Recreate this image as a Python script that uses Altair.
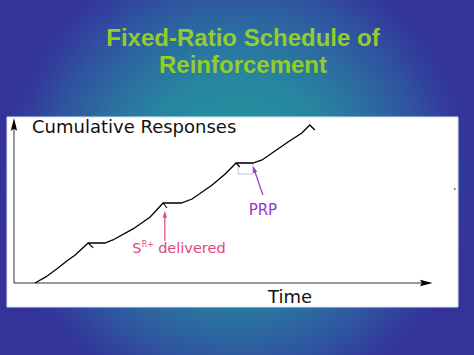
import altair as alt
import pandas as pd

# ---- cumulative record (time units 0..100 on the x axis, responses on y) ----
rec_time = [5.0, 7.6, 10.5, 12.6, 14.6, 17.7, 21.7, 23.6, 28.4, 32.5, 35.6, 39.9,
            42.5, 47.3, 50.4, 53.0, 57.0, 59.2, 61.6, 65.4, 68.7, 70.6, 71.8]
rec_resp = [0.0, 3.8, 9.4, 13.8, 17.5, 25.0, 25.0, 26.9, 33.8, 41.3, 50.0, 50.0,
            52.5, 61.3, 68.1, 75.0, 75.0, 76.9, 81.3, 88.1, 93.8, 98.8, 95.6]

# pen deflections at each reinforcer
sr_time = [17.7, 35.6, 53.0]
sr_resp = [25.0, 50.0, 75.0]
sr_time_end = [18.9, 36.5, 53.9]
sr_resp_end = [21.9, 46.9, 72.5]

# post-reinforcement pause box
prp_time = [53.5]
prp_time_end = [57.0]
prp_resp = [68.1]
prp_resp_end = [75.0]

# annotation arrows (shafts)
arr_time = [36.0, 59.4]
arr_resp = [26.3, 55.0]
arr_time_end = [36.0, 57.3]
arr_resp_end = [43.0, 71.1]
arr_color = ["#e2457f", "#9a34d0"]
arr_angle = [0, 341]

# text
title_lines = ["Fixed-Ratio Schedule of", "Reinforcement"]
title_time = [54.65, 54.65]
title_resp = [148.1, 131.3]

X_DOMAIN = [-3.341, 109.785]
Y_DOMAIN = [-45.0, 176.875]
PANEL_T = [-1.67, 105.97]
PANEL_R = [-15.0, 103.75]
AXIS_LEN_T = 98.3
AXIS_LEN_R = 99.0

xs = alt.Scale(domain=X_DOMAIN, nice=False, zero=False)
ys = alt.Scale(domain=Y_DOMAIN, nice=False, zero=False)


def X(f):
    return alt.X(f, type="quantitative", scale=xs, axis=None)


def Y(f):
    return alt.Y(f, type="quantitative", scale=ys, axis=None)


def X2(f):
    return alt.X2(f)


def Y2(f):
    return alt.Y2(f)


grad = {
    "gradient": "radial",
    "x1": 0.5, "y1": 0.5, "r1": 0,
    "x2": 0.5, "y2": 0.5, "r2": 0.5,
    "stops": [
        {"offset": 0.0, "color": "#1f9a9c"},
        {"offset": 0.42, "color": "#2786a0"},
        {"offset": 0.6, "color": "#2b70a0"},
        {"offset": 0.78, "color": "#2f55a0"},
        {"offset": 0.92, "color": "#323d9c"},
        {"offset": 1.0, "color": "#333399"},
    ],
}

bg_df = pd.DataFrame({"t": [X_DOMAIN[0]], "t2": [X_DOMAIN[1]],
                      "r": [Y_DOMAIN[0]], "r2": [Y_DOMAIN[1]]})
bg = alt.Chart(bg_df).mark_rect(fill=grad, strokeWidth=0).encode(
    x=X("t"), x2=X2("t2"), y=Y("r"), y2=Y2("r2"))

panel_df = pd.DataFrame({"t": [PANEL_T[0]], "t2": [PANEL_T[1]],
                         "r": [PANEL_R[0]], "r2": [PANEL_R[1]]})
panel = alt.Chart(panel_df).mark_rect(fill="white", stroke="#d8e0f0", strokeWidth=1).encode(
    x=X("t"), x2=X2("t2"), y=Y("r"), y2=Y2("r2"))

axes_df = pd.DataFrame({"t": [0.0, 0.0], "r": [0.0, 0.0],
                        "t2": [AXIS_LEN_T, 0.0], "r2": [0.0, AXIS_LEN_R]})
axes = alt.Chart(axes_df).mark_rule(color="#333333", strokeWidth=1).encode(
    x=X("t"), x2=X2("t2"), y=Y("r"), y2=Y2("r2"))

heads_df = pd.DataFrame({"t": [0.0, 98.4], "r": [99.1, 0.0], "a": [0, 90]})
heads = alt.Chart(heads_df).mark_point(
    shape="M0,-1L0.5,1L0,0.7L-0.5,1Z", filled=True, color="black", opacity=1,
    size=160).encode(x=X("t"), y=Y("r"), angle=alt.Angle("a:Q", scale=None))

rec_df = pd.DataFrame({"t": rec_time, "r": rec_resp, "i": range(len(rec_time))})
record = alt.Chart(rec_df).mark_line(color="black", strokeWidth=1.3).encode(
    x=X("t"), y=Y("r"), order="i:Q")

sr_df = pd.DataFrame({"t": sr_time, "r": sr_resp, "t2": sr_time_end, "r2": sr_resp_end})
sr = alt.Chart(sr_df).mark_rule(color="black", strokeWidth=1.1).encode(
    x=X("t"), x2=X2("t2"), y=Y("r"), y2=Y2("r2"))

prp_df = pd.DataFrame({"t": prp_time, "t2": prp_time_end, "r": prp_resp, "r2": prp_resp_end})
prp = alt.Chart(prp_df).mark_rect(fillOpacity=0, stroke="#c6c2dc", strokeWidth=1).encode(
    x=X("t"), x2=X2("t2"), y=Y("r"), y2=Y2("r2"))

arr_df = pd.DataFrame({"t": arr_time, "r": arr_resp, "t2": arr_time_end, "r2": arr_resp_end,
                       "c": arr_color, "a": arr_angle})
shafts = alt.Chart(arr_df).mark_rule(strokeWidth=1.2).encode(
    x=X("t"), x2=X2("t2"), y=Y("r"), y2=Y2("r2"), color=alt.Color("c:N", scale=None))
tips = alt.Chart(arr_df).mark_point(
    shape="M0,-1L0.6,1L-0.6,1Z", filled=True, opacity=1, size=49).encode(
    x=X("t2"), y=Y("r2"), color=alt.Color("c:N", scale=None),
    angle=alt.Angle("a:Q", scale=None))

title_df = pd.DataFrame({"t": title_time, "r": title_resp, "s": title_lines})
title = alt.Chart(title_df).mark_text(
    font="Liberation Sans", fontWeight="bold", fontSize=24, color="#94cc2c",
    align="center", baseline="alphabetic").encode(x=X("t"), y=Y("r"), text="s:N")

lab_df = pd.DataFrame({"t": [4.3], "r": [93.75], "s": ["Cumulative Responses"]})
ylab = alt.Chart(lab_df).mark_text(
    font="DejaVu Sans", fontSize=18, color="#111111", align="left",
    baseline="alphabetic").encode(x=X("t"), y=Y("r"), text="s:N")

tlab_df = pd.DataFrame({"t": [65.9], "r": [-12.5], "s": ["Time"]})
xlab = alt.Chart(tlab_df).mark_text(
    font="DejaVu Sans", fontSize=18, color="#111111", align="center",
    baseline="alphabetic").encode(x=X("t"), y=Y("r"), text="s:N")

prp_lab_df = pd.DataFrame({"t": [59.4], "r": [42.2], "s": ["PRP"]})
prp_lab = alt.Chart(prp_lab_df).mark_text(
    font="DejaVu Sans", fontSize=15, color="#9a34d0", align="center",
    baseline="alphabetic").encode(x=X("t"), y=Y("r"), text="s:N")

sr_lab_df = pd.DataFrame({"t": [28.2, 34.4], "r": [18.75, 18.75], "s": ["S", "delivered"]})
sr_lab = alt.Chart(sr_lab_df).mark_text(
    font="DejaVu Sans", fontSize=14.5, color="#e2457f", align="left",
    baseline="alphabetic").encode(x=X("t"), y=Y("r"), text="s:N")

sup_df = pd.DataFrame({"t": [30.5], "r": [22.5], "s": ["R+"]})
sup = alt.Chart(sup_df).mark_text(
    font="DejaVu Sans", fontSize=8, color="#e2457f", align="left",
    baseline="alphabetic").encode(x=X("t"), y=Y("r"), text="s:N")

dot_df = pd.DataFrame({"t": [105.2], "r": [58.75]})
dot = alt.Chart(dot_df).mark_circle(color="#333333", size=3, opacity=1).encode(
    x=X("t"), y=Y("r"))

chart = alt.layer(
    bg, panel, prp, axes, heads, record, sr, shafts, tips,
    title, ylab, xlab, prp_lab, sr_lab, sup, dot
).properties(
    width=474, height=355, padding=0, background="#333399"
).configure_view(stroke=None)

chart.save("out.html", embed_options={"renderer": "svg", "actions": False})
